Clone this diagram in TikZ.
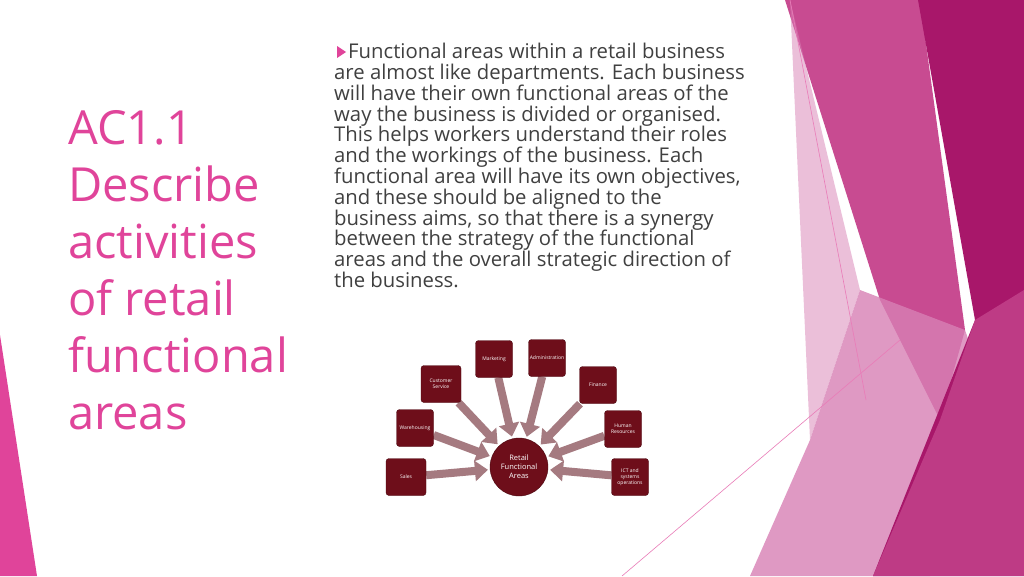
\documentclass[tikz,border=0pt]{standalone}
\usepackage{fontspec}
\setmainfont{Open Sans}
\usepackage{tikz}
\usetikzlibrary{arrows.meta,positioning,backgrounds}
\definecolor{titlepink}{RGB}{224,68,154}
\definecolor{bodygray}{RGB}{64,64,64}
\definecolor{boxred}{RGB}{110,14,26}
\definecolor{arrowmauve}{RGB}{165,122,128}
\definecolor{deepmag}{RGB}{168,23,106}
\definecolor{midmag}{RGB}{200,75,145}
\definecolor{lightmag}{RGB}{216,128,181}
\begin{document}
\begin{tikzpicture}
              [x=1pt,y=-1pt,
                area/.style={rectangle,rounded corners=3pt,draw=boxred!70!black,fill=boxred,text=white,
                  minimum size=37pt,align=center,font=\fontsize{5}{6}\selectfont,inner sep=1pt},
                hub/.style={circle,draw=boxred!70!black,fill=boxred,text=white,minimum size=58pt,
                  align=center,font=\fontsize{7.5}{9}\selectfont},
                feed/.style={arrowmauve,line width=8pt,-{Triangle[width=20pt,length=13pt]},shorten >=2pt}]
              \useasboundingbox (0,0) rectangle (1024,576);
              % diagram
              \node[hub] (core) at (519,467) {Retail\\Functional\\Areas};
              \node[area,minimum width=40pt] (sales) at (406,477) {Sales};
              \node[area] (ware) at (415,428) {Warehousing};
              \node[area,minimum width=40pt] (cust) at (441,384) {Customer\\Service};
              \node[area] (mkt) at (494,359) {Marketing};
              \node[area] (admin) at (547,358) {Administration};
              \node[area] (fin) at (598,385) {Finance};
              \node[area] (hr) at (623,429) {Human\\Resources};
              \node[area] (ict) at (630,477) {ICT and\\systems\\operations};
              \begin{pgfonlayer}{background}
              % background
              \fill[white] (0,0) rectangle (1024,576);
              \fill[midmag] (785,0) -- (920,0) -- (965,330) -- (940,420) -- (880,300) -- cycle;
              \fill[lightmag,opacity=0.8] (860,290) -- (965,330) -- (1000,430) -- (930,576) -- (750,576) -- (810,440) -- cycle;
              \fill[lightmag,opacity=0.5] (790,0) -- (860,290) -- (810,440) -- cycle;
              \fill[deepmag] (918,0) -- (1024,0) -- (1024,576) -- (873,576) -- (975,320) -- cycle;
              \fill[midmag,opacity=0.7] (940,420) -- (975,320) -- (1024,290) -- (1024,576) -- (873,576) -- cycle;
              \draw[titlepink!70,line width=0.6pt] (790,0) -- (866,400);
              \draw[titlepink!70,line width=0.6pt] (622,576) -- (900,340);
              \fill[titlepink] (0,335) -- (37,576) -- (0,576) -- cycle;
              \foreach \src in {sales,ware,cust,mkt,admin,fin,hr,ict}
              \draw[feed] (\src) -- (core);
              \end{pgfonlayer}
              % title
              \node[anchor=north west,text=titlepink,align=left,inner sep=0pt,
                font=\fontsize{47}{57}\selectfont] (title) at (68,110)
                {AC1.1\\Describe\\activities\\of retail\\functional\\areas};
              % body
              \fill[titlepink] (337,46) -- (346,52) -- (337,58) -- cycle;
              \node[anchor=north west,text=bodygray,align=left,inner sep=0pt,
                font=\fontsize{20.3}{20.8}\selectfont] (body) at (348,43)
                {Functional areas within a retail business};
              \node[anchor=north west,text=bodygray,align=left,inner sep=0pt,
                font=\fontsize{20.3}{20.8}\selectfont] (body2) at (334,63.8)
                {are almost like departments. Each business\\will have their own functional areas of the\\way the business is divided or organised.\\This helps workers understand their roles\\and the workings of the business. Each\\functional area will have its own objectives,\\and these should be aligned to the\\business aims, so that there is a synergy\\between the strategy of the functional\\areas and the overall strategic direction of\\the business.};
            \end{tikzpicture}
\end{document}
